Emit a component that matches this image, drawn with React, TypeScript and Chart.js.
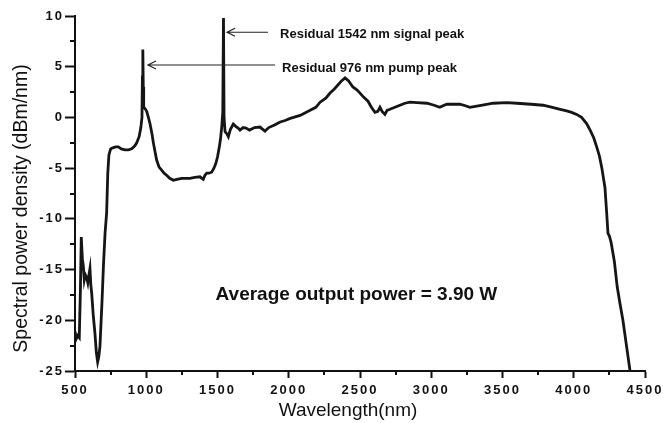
import React, { useEffect, useRef } from "react";
import { Chart, registerables } from "chart.js";

Chart.register(...registerables);

// Wavelength (nm)
const wavelengths = [
  500, 510, 520, 530, 538, 544, 552, 558, 565, 572, 582, 590, 597, 605, 611, 617, 628, 640, 650, 659,
  667, 675, 690, 700, 711, 722, 730, 738, 750, 765, 785, 804, 825, 851, 875, 898, 920, 933, 950, 962,
  970, 973, 976, 979, 982, 990, 1003, 1015, 1026, 1040, 1050, 1062, 1073, 1090, 1108, 1125, 1143, 1165,
  1190, 1215, 1249, 1280, 1307, 1340, 1377, 1390, 1400, 1412, 1424, 1440, 1459, 1475, 1489, 1500, 1513,
  1522, 1530, 1537, 1542, 1546, 1553, 1565, 1576, 1590, 1611, 1630, 1645, 1658, 1680, 1700, 1725, 1760,
  1798, 1820, 1833, 1860, 1900, 1940, 1975, 2010, 2080, 2150, 2190, 2220, 2260, 2290, 2320, 2345, 2370,
  2395, 2420, 2450, 2480, 2500, 2525, 2556, 2580, 2605, 2625, 2640, 2655, 2675, 2690, 2710, 2745, 2780,
  2815, 2850, 2900, 2970, 3020, 3060, 3090, 3110, 3200, 3240, 3270, 3350, 3435, 3530, 3600, 3700, 3785,
  3850, 3905, 3950, 3985, 4020, 4055, 4090, 4115, 4140, 4161, 4180, 4196, 4219, 4231, 4240, 4250, 4262,
  4285, 4305, 4325, 4345, 4370, 4395,
];

// Spectral power density (dBm/nm)
const powerDensity = [
  -21.1, -21.8, -21.5, -21.7, -17, -11.8, -14.0, -14.6, -16.0, -15.5, -15.8, -16.3, -15.6, -14.9, -16.5,
  -17.3, -19.5, -21.3, -23.2, -24.1, -23.6, -22.6, -18, -14.5, -11.4, -9.4, -5.5, -3.7, -3.1, -3.0, -2.9,
  -2.9, -3.1, -3.2, -3.2, -3.1, -2.8, -2.5, -1.9, -1.0, 0.0, 4.0, 6.7, 3.0, 1.0, 0.9, 0.6, 0.0, -0.6, -1.6,
  -2.5, -3.4, -4.2, -4.9, -5.2, -5.5, -5.7, -6.0, -6.2, -6.1, -6.0, -6.0, -6.0, -5.9, -5.85, -6.0, -6.1,
  -5.7, -5.5, -5.5, -5.4, -5.0, -4.5, -3.9, -2.9, -2.0, -0.9, 0.5, 9.8, 0.0, -1.4, -1.6, -1.9, -1.2, -0.65,
  -0.9, -1.05, -1.25, -1.0, -1.05, -1.25, -1.0, -0.95, -1.2, -1.35, -1.0, -0.75, -0.45, -0.3, -0.1, 0.2,
  0.7, 1.0, 1.5, 1.9, 2.4, 2.8, 3.2, 3.6, 3.9, 3.6, 3.0, 2.7, 2.4, 2.0, 1.6, 1.0, 0.5, 0.6, 1.0, 0.6, 0.3,
  0.7, 0.8, 1.0, 1.2, 1.4, 1.5, 1.45, 1.4, 1.2, 1.0, 1.2, 1.3, 1.3, 1.15, 1.0, 1.2, 1.4, 1.45, 1.4, 1.3,
  1.2, 1.0, 0.8, 0.65, 0.5, 0.3, 0.0, -0.6, -1.25, -2.0, -2.9, -3.8, -4.9, -6.9, -9.4, -11.4, -11.7,
  -12.3, -14.2, -16.7, -18.4, -20.0, -22.5, -25.0,
];

const xMin = 500;
const xMax = 4500;
const xStep = 500;
const yMin = -25;
const yMax = 10;
const yStep = 5;

const xTitle = "Wavelength(nm)";
const yTitle = "Spectral power density (dBm/nm)";

// annotation texts, arrow tips / tails and text anchors in data units
const arrowLabels = ["Residual 1542 nm signal peak", "Residual 976 nm pump peak"];
const arrowTipX = [1567, 1012];
const arrowTailX = [1854, 1904];
const arrowY = [8.4, 5.17];
const arrowTextX = [1939, 1953];
const arrowTextY = [8.2, 4.87];
const noteText = "Average output power = 3.90 W";
const noteX = 2475;
const noteY = -17.5;

const INK = "#111111";
const FONT = "Arial, 'Liberation Sans', sans-serif";

const decorPlugin = {
  id: "decor",
  afterDatasetsDraw(chart: any) {
    // tick labels (z = 1) are drawn after this hook: give them the wide letter spacing
    (chart.ctx as any).letterSpacing = "2px";
  },
  afterDraw(chart: any) {
    const ctx = chart.ctx as any;
    ctx.letterSpacing = "0px";
    const xs = chart.scales.x;
    const ys = chart.scales.y;
    const { left, right, top, bottom } = chart.chartArea;
    ctx.save();
    ctx.strokeStyle = INK;
    ctx.lineWidth = 2;
    // minor ticks
    for (let v = xMin + xStep / 2; v < xMax; v += xStep) {
      const px = Math.round(xs.getPixelForValue(v));
      ctx.beginPath();
      ctx.moveTo(px, bottom);
      ctx.lineTo(px, bottom + 4);
      ctx.stroke();
    }
    for (let v = yMin + yStep / 2; v < yMax; v += yStep) {
      const py = Math.round(ys.getPixelForValue(v));
      ctx.beginPath();
      ctx.moveTo(left, py);
      ctx.lineTo(left - 5, py);
      ctx.stroke();
    }
    // arrows
    ctx.lineWidth = 1.2;
    ctx.strokeStyle = "#222";
    for (let i = 0; i < arrowLabels.length; i++) {
      const x1 = xs.getPixelForValue(arrowTailX[i]);
      const x0 = xs.getPixelForValue(arrowTipX[i]);
      const y = ys.getPixelForValue(arrowY[i]);
      ctx.beginPath();
      ctx.moveTo(x1, y);
      ctx.lineTo(x0, y);
      ctx.moveTo(x0 + 8, y - 4);
      ctx.lineTo(x0, y);
      ctx.lineTo(x0 + 8, y + 4);
      ctx.stroke();
      ctx.fillStyle = INK;
      ctx.font = `bold 13px ${FONT}`;
      ctx.textAlign = "left";
      ctx.textBaseline = "middle";
      ctx.fillText(arrowLabels[i], xs.getPixelForValue(arrowTextX[i]), ys.getPixelForValue(arrowTextY[i]));
    }
    // power note
    ctx.fillStyle = INK;
    ctx.font = `bold 19px ${FONT}`;
    ctx.textAlign = "center";
    ctx.textBaseline = "middle";
    ctx.fillText(noteText, xs.getPixelForValue(noteX), ys.getPixelForValue(noteY));
    // axis titles
    ctx.font = `19px ${FONT}`;
    ctx.fillText(xTitle, (left + right) / 2 - 12, bottom + 40);
    ctx.save();
    ctx.translate(left - 53, (top + bottom) / 2 + 15);
    ctx.rotate(-Math.PI / 2);
    ctx.font = `19.5px ${FONT}`;
    ctx.fillText(yTitle, 0, 0);
    ctx.restore();
    ctx.restore();
  },
};

export default function App() {
  const canvasRef = useRef<HTMLCanvasElement | null>(null);

  useEffect(() => {
    const canvas = canvasRef.current;
    if (!canvas) return;
    const points = wavelengths.map((x, i) => ({ x, y: powerDensity[i] }));
    const chart = new Chart(canvas, {
      type: "line",
      data: {
        datasets: [
          {
            data: points,
            borderColor: "#151515",
            borderWidth: 2.8,
            pointRadius: 0,
            tension: 0,
            fill: false,
          },
        ],
      },
      options: {
        responsive: false,
        animation: false,
        devicePixelRatio: 1,
        layout: { padding: { top: 16, right: 18, bottom: 0, left: 0 } },
        plugins: { legend: { display: false }, tooltip: { enabled: false } },
        scales: {
          x: {
            type: "linear",
            min: xMin,
            max: xMax,
            afterFit: (s: any) => {
              s.height = 52;
              s.paddingLeft = 0;
              s.paddingRight = 0;
            },
            ticks: {
              stepSize: xStep,
              padding: 5,
              color: INK,
              z: 1,
              maxRotation: 0,
              callback: (v: any) => String(v),
              font: { family: FONT, size: 13, weight: "bold" },
            },
            grid: {
              drawOnChartArea: false,
              drawTicks: true,
              tickLength: 7,
              tickWidth: 2,
              tickColor: INK,
            },
            border: { display: true, color: INK, width: 2 },
          },
          y: {
            type: "linear",
            min: yMin,
            max: yMax,
            afterFit: (s: any) => {
              s.width = 75;
            },
            ticks: {
              stepSize: yStep,
              padding: 1,
              color: INK,
              z: 1,
              callback: (v: any) => String(v),
              font: { family: FONT, size: 13, weight: "bold" },
            },
            grid: {
              drawOnChartArea: false,
              drawTicks: true,
              tickLength: 10,
              tickWidth: 2,
              tickColor: INK,
            },
            border: { display: true, color: INK, width: 2 },
          },
        },
      },
      plugins: [decorPlugin],
    } as any);
    return () => chart.destroy();
  }, []);

  return (
    <div style={{ position: "fixed", left: 0, top: 0, width: 663, height: 423, background: "#fff" }}>
      <canvas ref={canvasRef} width={663} height={423} style={{ display: "block", width: 663, height: 423 }} />
    </div>
  );
}
